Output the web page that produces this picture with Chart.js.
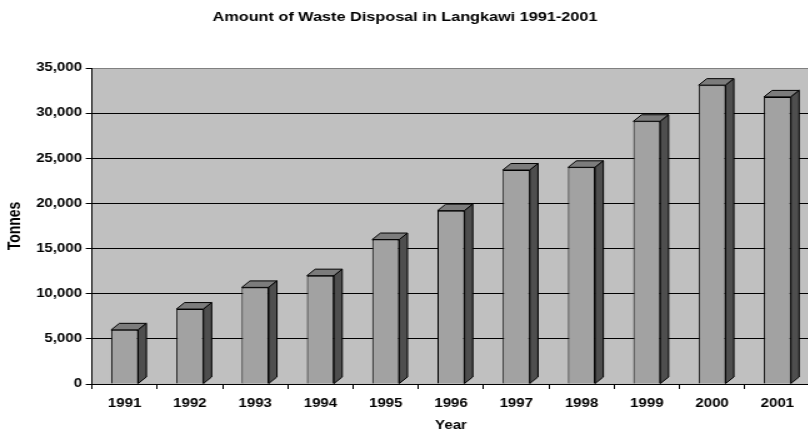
<!DOCTYPE html>
<html lang="en">
<head>
<meta charset="UTF-8">
<title>Amount of Waste Disposal in Langkawi 1991-2001</title>
<style>
  html, body { margin: 0; padding: 0; overflow: hidden; background: #fff; }
  /* the source picture is a horizontally stretched Excel export, so stretch the canvas the same way */
  #wasteChart { transform: scaleX(1.25); transform-origin: 0 0; }
</style>
</head>
<body>
<canvas id="wasteChart" width="648" height="436"></canvas>

<script src="https://cdn.jsdelivr.net/npm/chart.js"></script>
<script>
const years = ['1991', '1992', '1993', '1994', '1995', '1996', '1997', '1998', '1999', '2000', '2001'];
const tonnes = [6000, 8300, 10700, 12000, 16000, 19200, 23700, 24000, 29100, 33100, 31800];
const yMax = 35000;
const yStep = 5000;

const FONT = 'Liberation Sans, Arial, sans-serif';
const DEPTH_X = 6.6;
const DEPTH_Y = 6.5;

// grey back wall behind the columns
const plotBackground = {
    id: 'plotBackground',
    beforeDraw(chart) {
        const {ctx, chartArea: a} = chart;
        ctx.save();
        ctx.fillStyle = '#c0c0c0';
        ctx.fillRect(a.left, a.top, a.right - a.left, a.bottom - a.top);
        ctx.restore();
    }
};

// fake 3d: top and side faces for every column
const barDepth = {
    id: 'barDepth',
    afterDatasetsDraw(chart) {
        const ctx = chart.ctx;
        chart.getDatasetMeta(0).data.forEach(bar => {
            const left = bar.x - bar.width / 2;
            const right = bar.x + bar.width / 2;
            const top = bar.y;
            const base = bar.base;
            ctx.save();
            ctx.lineWidth = 1;
            ctx.strokeStyle = '#000';

            ctx.beginPath();
            ctx.moveTo(left, top);
            ctx.lineTo(left + DEPTH_X, top - DEPTH_Y);
            ctx.lineTo(right + DEPTH_X, top - DEPTH_Y);
            ctx.lineTo(right, top);
            ctx.closePath();
            ctx.fillStyle = '#7c7c7c';
            ctx.fill();
            ctx.stroke();

            ctx.beginPath();
            ctx.moveTo(right, top);
            ctx.lineTo(right + DEPTH_X, top - DEPTH_Y);
            ctx.lineTo(right + DEPTH_X, base - DEPTH_Y);
            ctx.lineTo(right, base);
            ctx.closePath();
            ctx.fillStyle = '#4e4e4e';
            ctx.fill();
            ctx.stroke();
            ctx.restore();
        });
    }
};

const ctx = document.getElementById('wasteChart').getContext('2d');

const chart = new Chart(ctx, {
    type: 'bar',
    data: {
        labels: years,
        datasets: [{
            data: tonnes,
            backgroundColor: '#a2a2a2',
            borderColor: '#000',
            borderWidth: 1,
            barPercentage: 0.414,
            categoryPercentage: 1
        }]
    },
    options: {
        responsive: false,
        animation: false,
        layout: { padding: 0 },
        plugins: {
            legend: { display: false },
            tooltip: { enabled: false },
            title: {
                display: true,
                text: 'Amount of Waste Disposal in Langkawi 1991-2001',
                color: '#000',
                font: { family: FONT, size: 13, weight: 'bold' },
                padding: { top: 9.2, bottom: 43.2 }
            }
        },
        scales: {
            x: {
                ticks: {
                    color: '#000',
                    padding: 7,
                    maxRotation: 0,
                    autoSkip: false,
                    font: { family: FONT, size: 12, weight: 'bold' }
                },
                grid: { drawOnChartArea: false, offset: true, tickLength: 5, color: '#000' },
                border: { color: '#000' },
                title: {
                    display: true,
                    text: 'Year',
                    color: '#000',
                    font: { family: FONT, size: 12, weight: 'bold' },
                    padding: { top: 0, bottom: 3 }
                },
                afterFit(scale) { scale.height = 52; }
            },
            y: {
                min: 0,
                max: yMax,
                ticks: {
                    stepSize: yStep,
                    color: '#000',
                    padding: 3,
                    font: { family: FONT, size: 12, weight: 'bold' },
                    callback: v => v.toLocaleString('en-US')
                },
                grid: {
                    tickLength: 5,
                    tickColor: '#000',
                    color: c => (c.tick && c.tick.value === yMax) ? '#808080' : '#000'
                },
                border: { color: '#000' },
                title: {
                    display: true,
                    text: 'Tonnes',
                    color: '#000',
                    font: { family: FONT, size: 14, weight: 'bold' },
                    padding: { top: 4, bottom: 0 }
                },
                afterFit(scale) { scale.width = 73.6; }
            }
        }
    },
    plugins: [plotBackground, barDepth]
});
</script>
</body>
</html>
